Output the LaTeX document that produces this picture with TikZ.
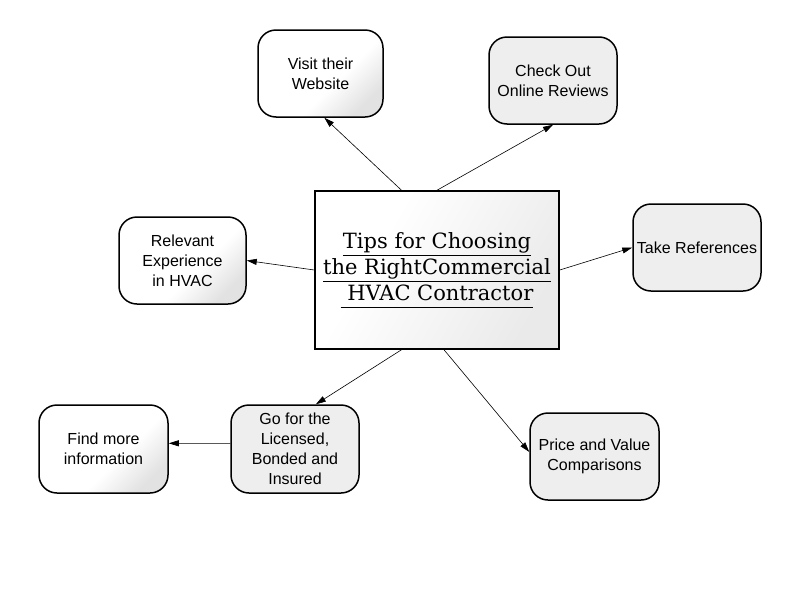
\documentclass[tikz,border=0pt]{standalone}
\usepackage{fontspec}
\setmainfont{Liberation Sans}
\newfontfamily\dvserif{DejaVu Serif}
\usetikzlibrary{arrows.meta}
\definecolor{boxgray}{HTML}{EEEEEE}
\definecolor{shadegray}{HTML}{E2E2E2}
\definecolor{centergray}{HTML}{EAEAEA}
\pgfdeclarehorizontalshading{diagfade}{100bp}{color(0bp)=(white); color(58bp)=(white); color(75bp)=(shadegray); color(100bp)=(shadegray)}
\pgfdeclarehorizontalshading{centerfade}{100bp}{color(0bp)=(white); color(35bp)=(white); color(75bp)=(centergray); color(100bp)=(centergray)}
\newcommand{\ulline}[1]{\underline{#1\vphantom{gy}}}
\begin{document}
\begin{tikzpicture}[x=1pt,y=-1pt,
  tip/.style={-{Triangle[length=10pt,width=6pt]}, line width=0.6pt},
  rbox/.style={draw, line width=1.5pt, rounded corners=18pt, align=center,
    font=\fontsize{16}{20}\selectfont, inner sep=0pt},
  grayfill/.style={fill=boxgray},
  shadefill/.style={shading=diagfade, shading angle=-45},
  centerfill/.style={shading=centerfade, shading angle=-30}
]
\useasboundingbox (0,0) rectangle (800,600);
\node[draw, line width=1.5pt, minimum width=244pt, minimum height=158pt, inner sep=0pt,
  centerfill, align=center, font=\dvserif\fontsize{21}{26}\selectfont]
  (c) at (437,270) {\ulline{Tips for Choosing}\\\ulline{the RightCommercial}\\\ulline{ HVAC Contractor}};
\node[rbox, shadefill, minimum width=125pt, minimum height=87pt] (v) at (320.5,73.5) {Visit their\\Website};
\node[rbox, grayfill, minimum width=128pt, minimum height=87pt] (k) at (553,80.5) {Check Out\\Online Reviews};
\node[rbox, grayfill, minimum width=128pt, minimum height=87pt] (t) at (697,247.5) {Take References};
\node[rbox, shadefill, minimum width=127pt, minimum height=87pt] (r) at (182.5,260.5) {Relevant\\Experience\\in HVAC};
\node[rbox, shadefill, minimum width=129pt, minimum height=88pt] (f) at (103.5,449) {Find more\\information};
\node[rbox, grayfill, minimum width=128pt, minimum height=88pt] (g) at (295,449) {Go for the\\Licensed,\\Bonded and\\Insured};
\node[rbox, grayfill, minimum width=129pt, minimum height=87pt] (p) at (594.5,456.5) {Price and Value\\Comparisons};
\draw[tip] (c.114.5) -- (v.-85);
\draw[tip] (c.north) -- (k.south);
\draw[tip] (c.east) -- (t.west);
\draw[tip] (c.west) -- (r.east);
\draw[tip] (c.-114.5) -- (g.65.6);
\draw[tip] (c.-85.8) -- (p.176);
\draw[tip] (g.175.5) -- (f.5.3);
\end{tikzpicture}
\end{document}
